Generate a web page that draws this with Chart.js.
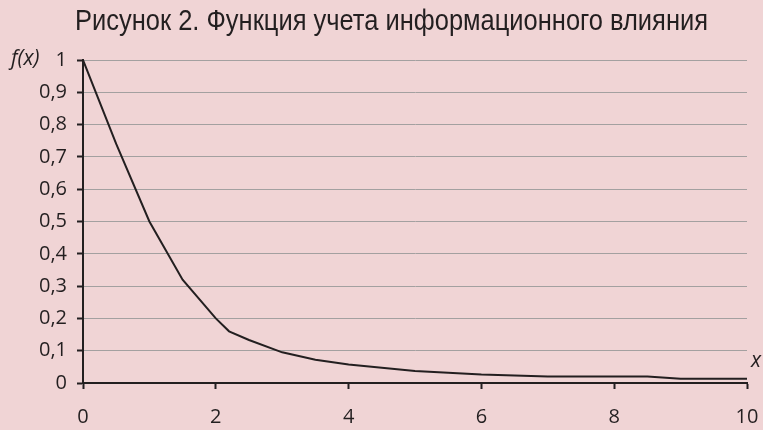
<!DOCTYPE html>
<html>
<head>
<meta charset="utf-8">
<script src="https://cdn.jsdelivr.net/npm/chart.js@4.4.1/dist/chart.umd.min.js"></script>
<style>
html,body{margin:0;padding:0;background:#F0D4D5;}
#wrap{width:763px;height:430px;}
</style>
</head>
<body>
<div id="wrap"><canvas id="c" width="763" height="430"></canvas></div>
<script>
const titleText = 'Рисунок 2. Функция учета информационного влияния';
const yAxisLabel = 'f(x)';
const xAxisLabel = 'x';
const xValues = [0, 0.5, 1, 1.5, 2, 2.2, 2.5, 3, 3.5, 4, 5, 6, 7, 8, 8.5, 9, 10];
const fValues = [1, 0.74, 0.5, 0.32, 0.2, 0.16, 0.133, 0.095, 0.072, 0.057, 0.037, 0.026, 0.02, 0.02, 0.02, 0.013, 0.013];
const xTicks = [0, 2, 4, 6, 8, 10];
const yTicks = [0, 0.1, 0.2, 0.3, 0.4, 0.5, 0.6, 0.7, 0.8, 0.9, 1];

const points = xValues.map((x, i) => ({x: x, y: fValues[i]}));
const INK = '#231F20';
const labelFont = {family: "'Open Sans', sans-serif", size: 20};

const extraText = {
  id: 'extraText',
  afterDraw(chart) {
    const ctx = chart.ctx;
    ctx.save();
    ctx.fillStyle = INK;
    ctx.font = "29px 'Liberation Sans Narrow', 'Liberation Sans', sans-serif";
    ctx.textBaseline = 'alphabetic';
    ctx.textAlign = 'center';
    const w = ctx.measureText(titleText).width;
    const sx = 633 / w;
    ctx.save();
    ctx.translate(391.5, 30);
    ctx.scale(sx, 1);
    ctx.fillText(titleText, 0, 0);
    ctx.restore();
    ctx.font = "italic 21px 'Open Sans', sans-serif";
    ctx.textBaseline = 'middle';
    ctx.textAlign = 'left';
    ctx.fillText(yAxisLabel, 11, chart.scales.y.getPixelForValue(1) - 1);
    ctx.textAlign = 'center';
    ctx.fillText(xAxisLabel, 756, chart.scales.y.getPixelForValue(0.067));
    ctx.restore();
  }
};

new Chart(document.getElementById('c'), {
  type: 'line',
  data: {
    datasets: [{
      data: points,
      borderColor: INK,
      borderWidth: 2,
      pointRadius: 0,
      tension: 0,
      fill: false
    }]
  },
  options: {
    responsive: false,
    animation: false,
    layout: {padding: {top: 60, right: 16, left: 0, bottom: 0}},
    plugins: {legend: {display: false}, tooltip: {enabled: false}, title: {display: false}},
    scales: {
      x: {
        type: 'linear',
        min: 0, max: 10,
        afterBuildTicks(scale) { scale.ticks = xTicks.map(v => ({value: v})); },
        afterFit(scale) { scale.height = 430 - 383; scale.paddingLeft = 0; scale.paddingRight = 0; },
        grid: {drawOnChartArea: false, drawTicks: true, tickLength: 6, tickColor: INK, tickWidth: 2},
        border: {color: INK, width: 2},
        ticks: {color: INK, font: labelFont, padding: 16, maxRotation: 0, callback: v => String(v)}
      },
      y: {
        min: 0, max: 1,
        afterBuildTicks(scale) { scale.ticks = yTicks.map(v => ({value: v})); },
        afterFit(scale) { scale.width = 83; scale.paddingTop = 0; scale.paddingBottom = 0; },
        grid: {color: '#A3A0A0', lineWidth: 1, drawTicks: true, tickLength: 6, tickColor: INK, tickWidth: 2},
        border: {color: INK, width: 2},
        ticks: {color: INK, font: labelFont, padding: 10,
          callback: v => String(Math.round(v * 10) / 10).replace('.', ',')}
      }
    }
  },
  plugins: [extraText]
});
</script>
</body>
</html>
